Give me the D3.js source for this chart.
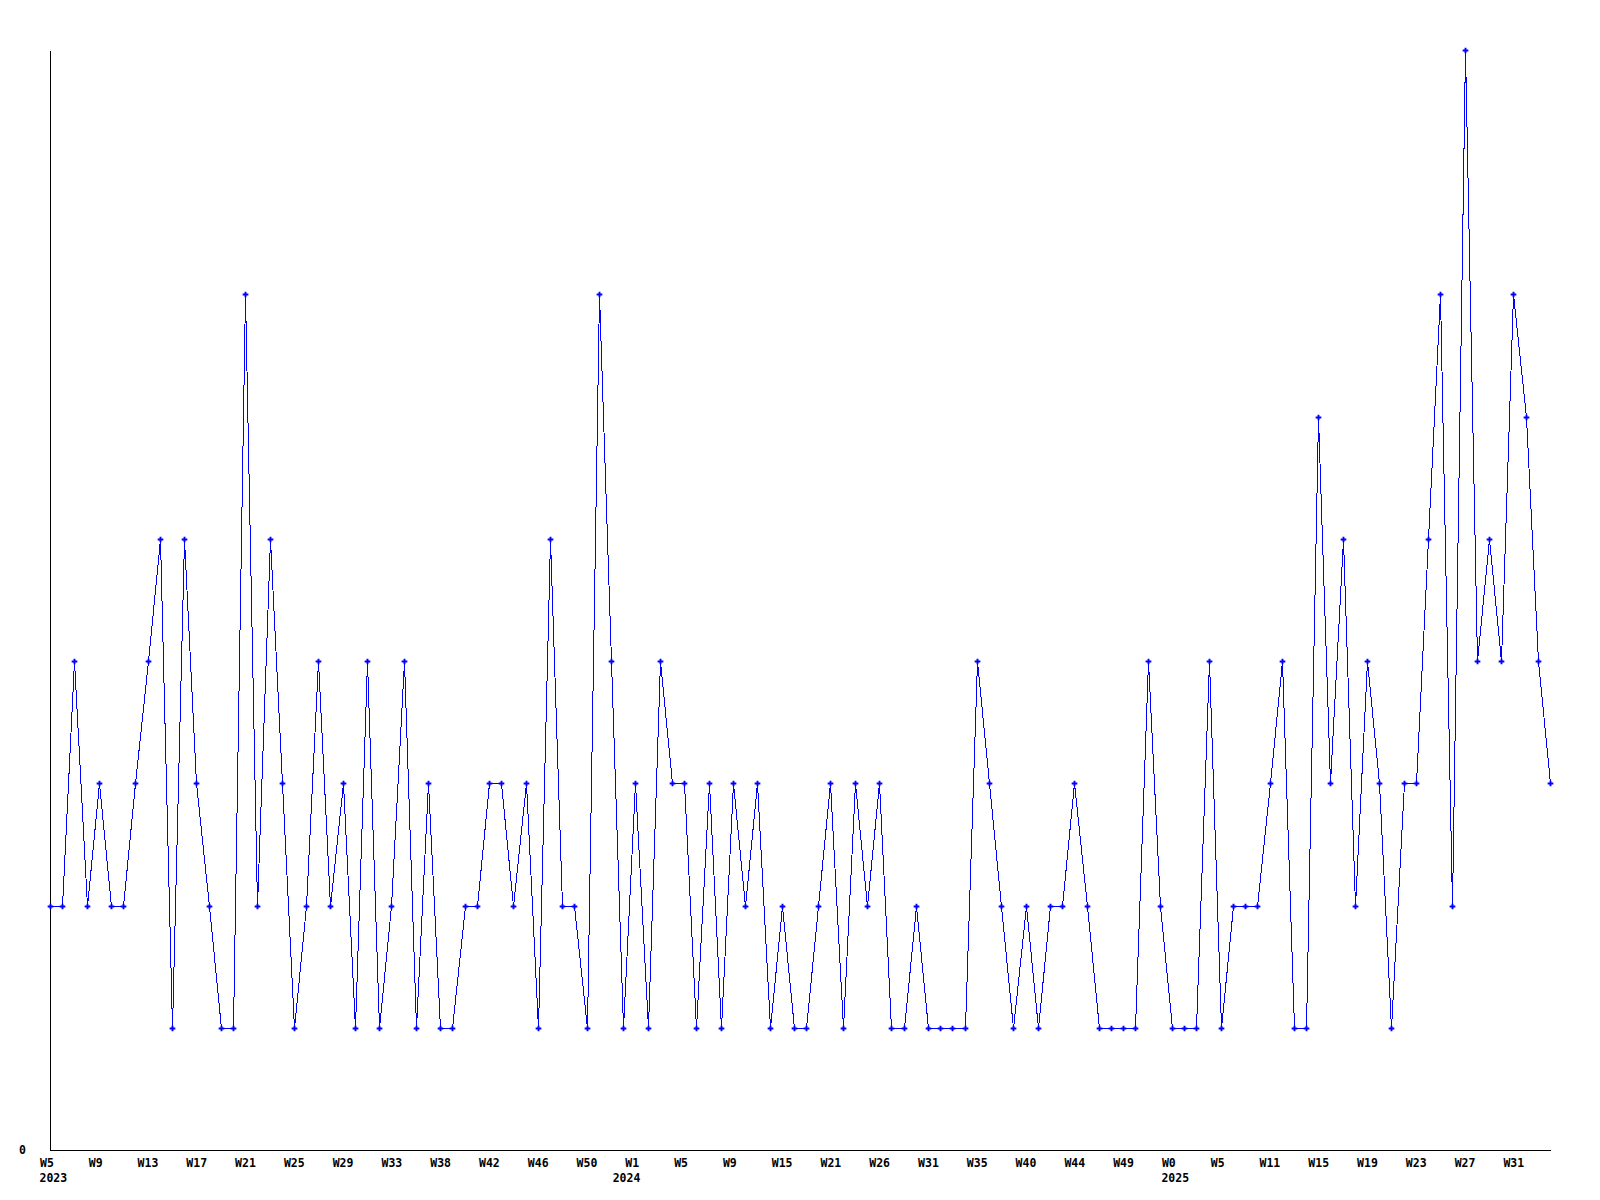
<!DOCTYPE html>
<html>
<head>
<meta charset="utf-8">
<script src="https://cdn.jsdelivr.net/npm/d3@7"></script>
<style>
  html, body { margin: 0; padding: 0; background: #fff; }
  svg { display: block; }
  text { font-family: "DejaVu Sans Mono", "Liberation Mono", monospace; font-weight: bold; font-size: 11.5px; fill: #000; }
</style>
</head>
<body>
<svg id="chart" width="1600" height="1200"></svg>
<script>
// ---- data ----
const values = [
  2,2,4,2,3,2,2,3,4,5,
  1,5,3,2,1,1,7,2,5,3,
  1,2,4,2,3,1,4,1,2,4,
  1,3,1,1,2,2,3,3,2,3,
  1,5,2,2,1,7,4,1,3,1,
  4,3,3,1,3,1,3,2,3,1,
  2,1,1,2,3,1,3,2,3,1,
  1,2,1,1,1,1,4,3,2,1,
  2,1,2,2,3,2,1,1,1,1,
  4,2,1,1,1,4,1,2,2,2,
  3,4,1,1,6,3,5,2,4,3,
  1,3,3,5,7,2,9,4,5,4,
  7,6,4,3
];
const weekLabels = ["W5","W9","W13","W17","W21","W25","W29","W33","W38","W42","W46","W50",
  "W1","W5","W9","W15","W21","W26","W31","W35","W40","W44","W49",
  "W0","W5","W11","W15","W19","W23","W27","W31"];
const labelStep = 4;
const yearLabels = ["2023","2024","2025"];
const yearIndex = [0, 47, 92];
const yTicks = [0];
const yMax = 9;

// ---- layout ----
const svg = d3.select("#chart");
const x = d3.scaleLinear().domain([0, values.length - 1]).range([50, 1550]);
const y = d3.scaleLinear().domain([0, yMax]).range([1150, 50]);

// x axis
const tickIdx = weekLabels.map((_, i) => i * labelStep);
const xAxis = d3.axisBottom(x)
  .tickValues(tickIdx)
  .tickSize(0)
  .tickSizeOuter(0)
  .tickFormat((d, i) => weekLabels[i]);
const gx = svg.append("g").attr("transform", "translate(0,1150)").call(xAxis);
gx.select(".domain").attr("stroke", "#000").attr("stroke-width", 1).attr("shape-rendering", "crispEdges")
  .attr("d", `M${x(0)},0.5H${x(values.length - 1) + 1}`);
gx.selectAll(".tick text")
  .attr("text-anchor", "start")
  .attr("x", -10.5)
  .attr("y", 16.5)
  .attr("dy", null)
  .style("font-family", "DejaVu Sans Mono")
  .style("font-weight", "bold")
  .style("font-size", "11.5px")
  .attr("fill", "#000");

// year labels
svg.append("g").selectAll("text").data(yearLabels).join("text")
  .attr("x", (d, i) => x(yearIndex[i]) - 10.5)
  .attr("y", 1181.5)
  .text(d => d);

// y axis
const yAxis = d3.axisLeft(y).tickValues(yTicks).tickSize(0).tickSizeOuter(0).tickPadding(24);
const gy = svg.append("g").attr("transform", "translate(50,0)").call(yAxis);
gy.select(".domain").attr("stroke", "#000").attr("stroke-width", 1).attr("shape-rendering", "crispEdges");
gy.selectAll(".tick text")
  .style("font-family", "DejaVu Sans Mono")
  .style("font-weight", "bold")
  .style("font-size", "11.5px")
  .attr("fill", "#000");

// line
const line = d3.line().x((d, i) => Math.round(x(i)) + 0.5).y(d => Math.round(y(d)) + 0.5);
svg.append("path")
  .datum(values)
  .attr("d", line)
  .attr("fill", "none")
  .attr("stroke", "#0000ff")
  .attr("stroke-width", 1)
  .attr("shape-rendering", "crispEdges");

// markers
const sym = d3.symbol(d3.symbolCross).size(18);
svg.append("g").selectAll("path").data(values).join("path")
  .attr("transform", (d, i) => `translate(${Math.round(x(i)) + 0.5},${Math.round(y(d)) + 0.5})`)
  .attr("d", sym)
  .attr("fill", "#0000ff");
</script>
</body>
</html>
